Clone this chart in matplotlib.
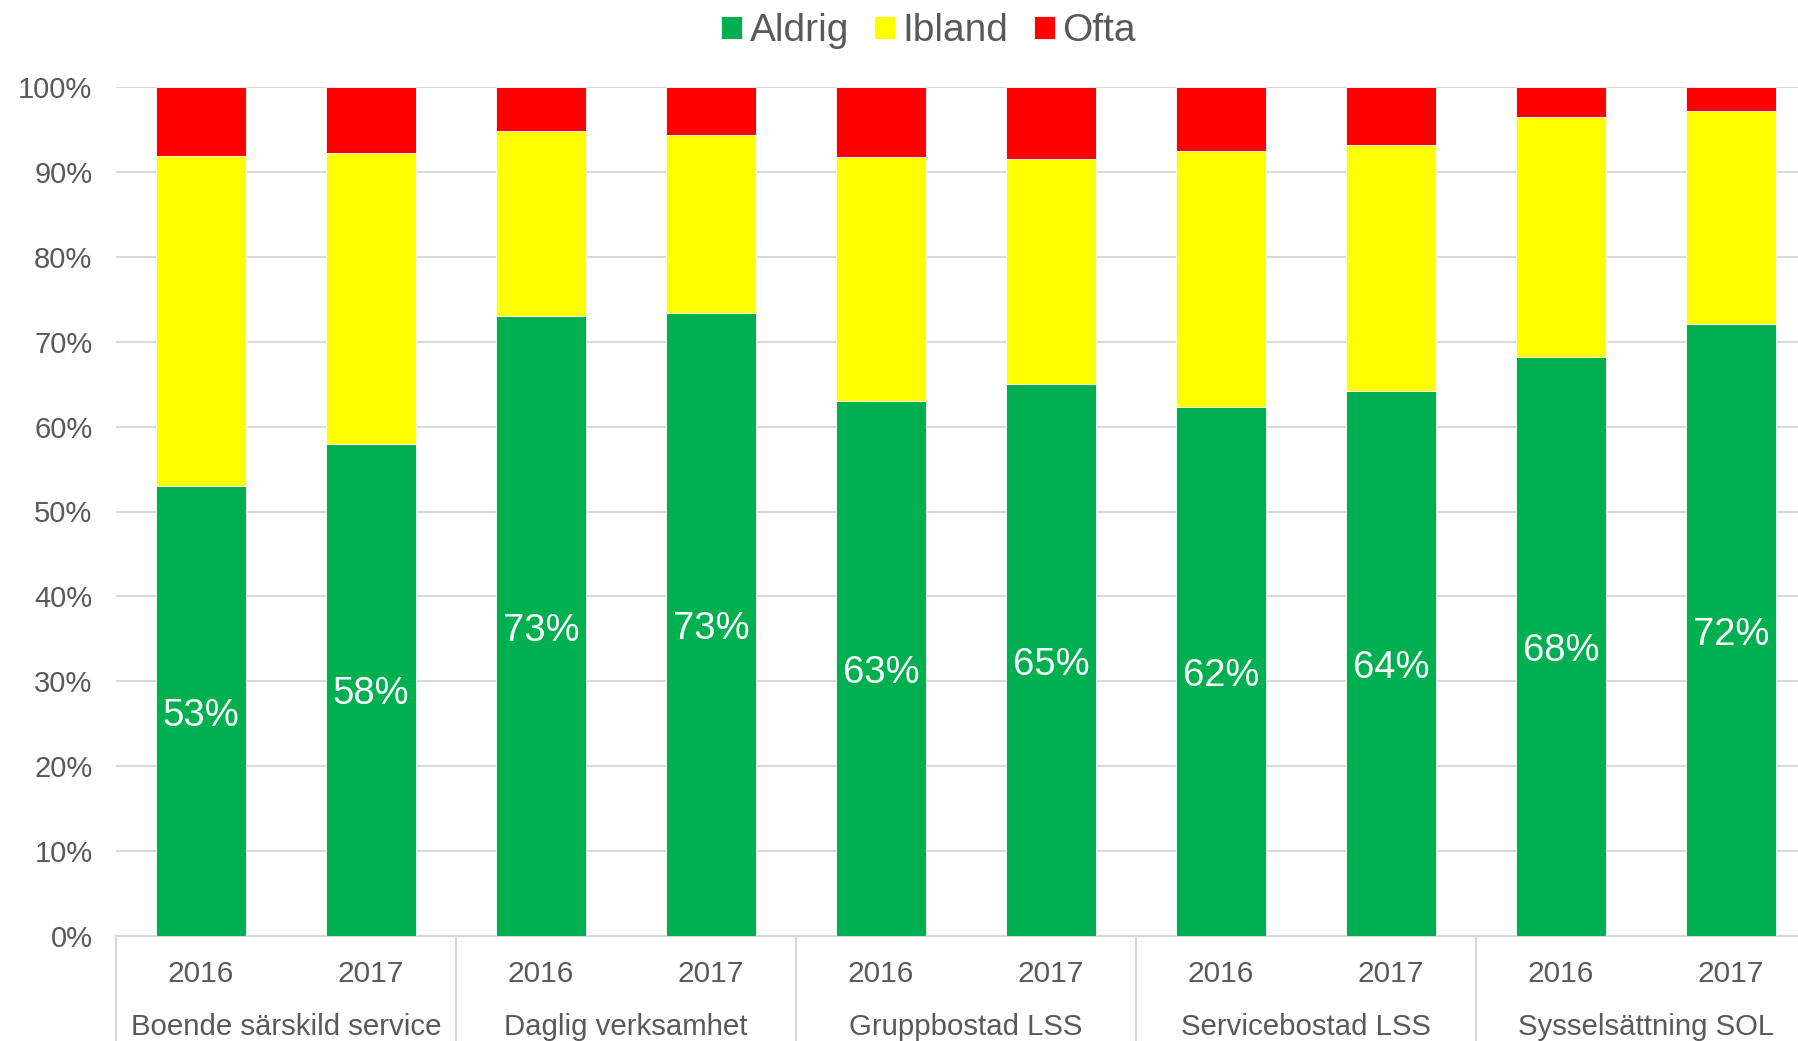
import matplotlib
matplotlib.use("Agg")
import matplotlib.pyplot as plt
from matplotlib.lines import Line2D
import matplotlib.transforms as mtransforms
import numpy as np

plt.rcParams['font.family'] = ['Liberation Sans', 'DejaVu Sans']

groups = ["Boende särskild service", "Daglig verksamhet", "Gruppbostad LSS",
          "Servicebostad LSS", "Sysselsättning SOL"]
years = ["2016", "2017"]
aldrig = [53.0, 58.0, 73.0, 73.4, 63.0, 65.0, 62.3, 64.2, 68.2, 72.1]
ibland = [38.9, 34.2, 21.8, 21.0, 28.7, 26.5, 30.2, 29.0, 28.3, 25.1]
ofta = [8.1, 7.8, 5.2, 5.6, 8.3, 8.5, 7.5, 6.8, 3.5, 2.8]
series_names = ["Aldrig", "Ibland", "Ofta"]
colors = ["#00B050", "#FFFF00", "#FF0000"]
yticks = [0, 10, 20, 30, 40, 50, 60, 70, 80, 90, 100]

text_color = "#595959"
grid_color = "#D9D9D9"

fig = plt.figure(figsize=(17.99, 10.41), dpi=100)
ax = fig.add_axes([116/1799, 1 - 936/1041, 1700/1799, (936 - 87)/1041])

n = len(aldrig)
x = np.arange(n)
a = np.array(aldrig) / 100
b = np.array(ibland) / 100
c = np.array(ofta) / 100
w = 0.533
h1 = ax.bar(x, a, w, color=colors[0], edgecolor="white", linewidth=0.6, label=series_names[0], zorder=3)
h2 = ax.bar(x, b, w, bottom=a, color=colors[1], edgecolor="white", linewidth=0.6, label=series_names[1], zorder=3)
h3 = ax.bar(x, c, w, bottom=a + b, color=colors[2], edgecolor="white", linewidth=0.6, label=series_names[2], zorder=3)

label_trans = mtransforms.offset_copy(ax.transData, fig=fig, x=0, y=-3.3, units="points")
for xi, v in zip(x, a):
    ax.text(xi, v / 2, f"{v*100:.0f}%", ha="center", va="center", color="white",
            fontsize=27.5, zorder=4, transform=label_trans)

ax.set_xlim(-0.5, n - 0.5)
ax.set_ylim(0, 1)
ax.set_yticks([t / 100 for t in yticks])
ax.set_yticklabels([f"{t}%" for t in yticks])
ax.yaxis.grid(True, color=grid_color, linewidth=1.5, zorder=0)
ax.set_axisbelow(True)
for s in ["left", "right", "top"]:
    ax.spines[s].set_visible(False)
ax.spines["bottom"].set_color(grid_color)
ax.spines["bottom"].set_linewidth(1.5)
ax.tick_params(axis="y", length=0, labelsize=21, labelcolor=text_color, pad=17)

ax.set_xticks(x)
ax.set_xticklabels([years[i % 2] for i in range(n)])
ax.tick_params(axis="x", length=0, labelsize=21.5, labelcolor=text_color, pad=17.5)

trans = mtransforms.blended_transform_factory(ax.transData, ax.transAxes)
for gi, g in enumerate(groups):
    ax.text(2 * gi + 0.5, -0.1066, g, transform=trans, ha="center", va="center",
            fontsize=21.2, color=text_color)
for sep in range(len(groups)):
    ax.add_line(Line2D([2 * sep - 0.5, 2 * sep - 0.5], [0, -0.2], transform=trans,
                       color=grid_color, linewidth=1.5, clip_on=False))

fig.legend(handles=[h1, h2, h3], labels=series_names, loc="center",
           bbox_to_anchor=(0.516, 0.970), ncol=3, frameon=False, fontsize=28,
           labelcolor=text_color, handlelength=0.55, handleheight=0.55,
           handletextpad=0.18, columnspacing=0.65)

fig.savefig("out.png", dpi=100)
